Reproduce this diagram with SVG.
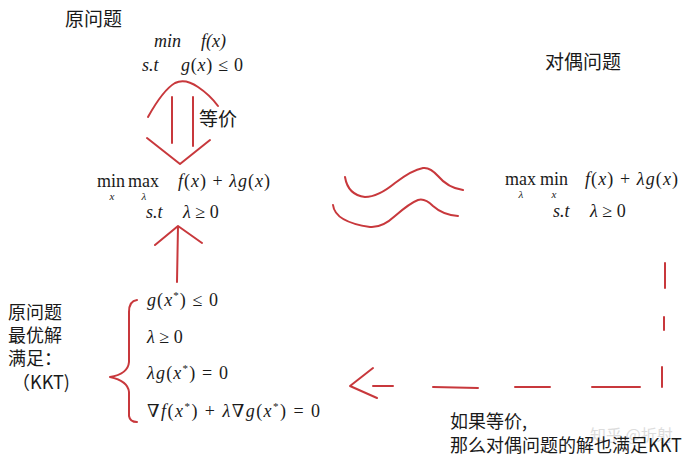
<svg xmlns="http://www.w3.org/2000/svg" width="699" height="457" viewBox="0 0 699 457">
<style>
.cn{font-family:"Noto Sans CJK SC","Noto Sans",sans-serif;font-size:19px;fill:#1a1a1a}
.nt{font-size:18px}
.lb{font-size:18px}
.m{font-family:"Liberation Serif","DejaVu Serif",serif;font-size:18px;fill:#1a1a1a}
.i{font-style:italic}
.sub{font-family:"Liberation Serif",serif;font-size:11px;font-style:italic;fill:#1a1a1a}
.sup{font-size:11px}
.red{fill:none;stroke:#c8383c;stroke-width:2;stroke-linecap:round;stroke-linejoin:round}
.wm{font-family:"Noto Sans CJK SC",sans-serif;font-size:16px;fill:#dcdcdc}
</style>
<rect width="699" height="457" fill="#fff"/>

<g id="primal">
<text class="cn" x="65" y="26">原问题</text>
<text class="m i" x="154" y="47">min</text>
<text class="m i" x="201" y="47">f(x)</text>
<text class="m i" x="142" y="71">s.t</text>
<text class="m" x="181" y="71" textLength="62" lengthAdjust="spacing"><tspan class="i">g</tspan>(<tspan class="i">x</tspan>) ≤ 0</text>
</g>

<g id="equiv-label">
<text class="cn" x="199" y="126">等价</text>
</g>

<g id="lagrangian">
<text class="m" x="97" y="187">min</text>
<text class="m" x="128" y="187">max</text>
<text class="sub" x="112" y="200" text-anchor="middle">x</text>
<text class="sub" x="144" y="200" text-anchor="middle">λ</text>
<text class="m" x="178" y="187" textLength="92" lengthAdjust="spacing"><tspan class="i">f</tspan>(<tspan class="i">x</tspan>) + <tspan class="i">λg</tspan>(<tspan class="i">x</tspan>)</text>
<text class="m i" x="146" y="218">s.t</text>
<text class="m" x="183" y="218"><tspan class="i">λ</tspan> ≥ 0</text>
</g>

<g id="dual">
<text class="cn" x="545" y="69">对偶问题</text>
<text class="m" x="505" y="185">max</text>
<text class="m" x="540" y="185">min</text>
<text class="sub" x="521" y="198" text-anchor="middle">λ</text>
<text class="sub" x="554" y="198" text-anchor="middle">x</text>
<text class="m" x="585" y="185" textLength="93" lengthAdjust="spacing"><tspan class="i">f</tspan>(<tspan class="i">x</tspan>) + <tspan class="i">λg</tspan>(<tspan class="i">x</tspan>)</text>
<text class="m i" x="553" y="217">s.t</text>
<text class="m" x="590" y="217"><tspan class="i">λ</tspan> ≥ 0</text>
</g>

<g id="kkt-label">
<text class="cn lb" x="8" y="319">原问题</text>
<text class="cn lb" x="8" y="342">最优解</text>
<text class="cn lb" x="8" y="365">满足：</text>
<text class="cn lb" x="12" y="389">（KKT)</text>
</g>

<g id="kkt">
<text class="m" x="147" y="306" textLength="71" lengthAdjust="spacing"><tspan class="i">g</tspan>(<tspan class="i">x</tspan><tspan class="sup" dy="-7">*</tspan><tspan dy="7">) ≤ 0</tspan></text>
<text class="m" x="147" y="343"><tspan class="i">λ</tspan> ≥ 0</text>
<text class="m" x="147" y="379" textLength="81" lengthAdjust="spacing"><tspan class="i">λg</tspan>(<tspan class="i">x</tspan><tspan class="sup" dy="-7">*</tspan><tspan dy="7">) = 0</tspan></text>
<text class="m" x="147" y="417" textLength="173" lengthAdjust="spacing">∇<tspan class="i">f</tspan>(<tspan class="i">x</tspan><tspan class="sup" dy="-7">*</tspan><tspan dy="7">) + </tspan><tspan class="i">λ</tspan>∇<tspan class="i">g</tspan>(<tspan class="i">x</tspan><tspan class="sup" dy="-7">*</tspan><tspan dy="7">) = 0</tspan></text>
</g>

<g id="note">
<text class="wm" x="590" y="441">知乎 @折射</text>
<text class="cn nt" x="450" y="428">如果等价,</text>
<text class="cn nt" x="450" y="452">那么对偶问题的解也满足KKT</text>
</g>

<g id="connectors">
<path class="red" d="M148,117 Q163,90 175,83 Q185,78 198,87 Q210,95 218,106"/>
<path class="red" d="M172,97 L172,143 M193,97 L193,146"/>
<path class="red" d="M147,138 L180,164 L210,140"/>
<path class="red" d="M177,282 L178,226 M155,245 L178,226 L202,243"/>
<path class="red" d="M345,177 Q348,195 365,197 Q378,197 395,183 Q412,170 423,168 Q430,167 438,176 Q448,188 463,190"/>
<path class="red" d="M333,205 Q335,222 370,227 Q382,228 395,216 Q410,203 418,200 Q425,198 433,206 Q443,215 458,216"/>
<path class="red" d="M137,300 Q129,301 129,312 L129,362 Q128,374 110,377 Q128,381 129,392 L129,416 Q130,422 137,422"/>
<path class="red" d="M665,263 L665,288 M664,317 L664,330 M662,367 L662,387"/>
<path class="red" d="M640,387 L592,387 M550,387 L515,387 M478,388 L433,387 M393,386 L373,386"/>
<path class="red" d="M373,368 L350,386 L377,398"/>
</g>
</svg>
